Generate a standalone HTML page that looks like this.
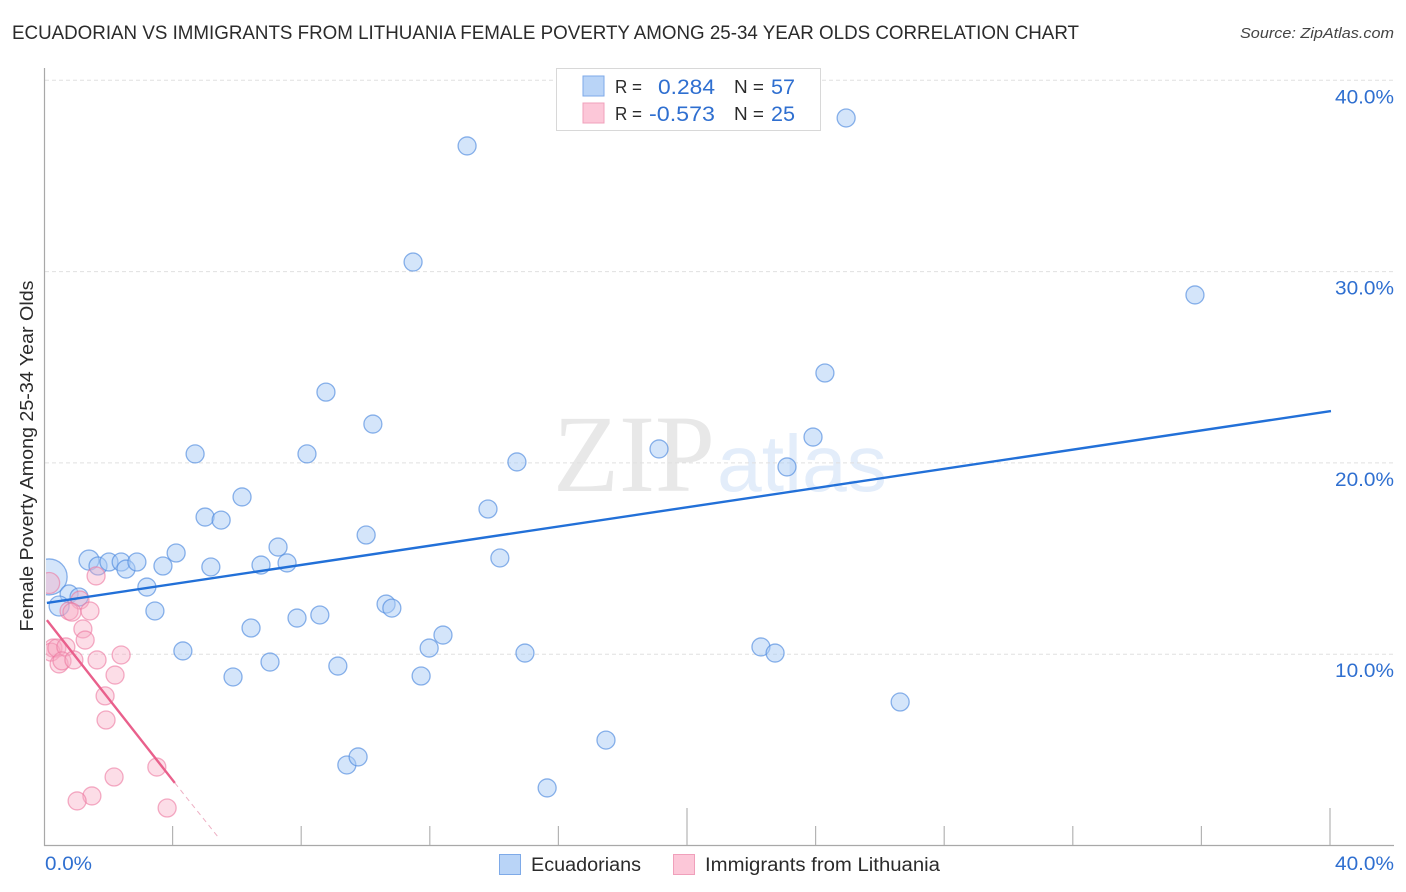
<!DOCTYPE html>
<html>
<head>
<meta charset="utf-8">
<style>
html,body{margin:0;padding:0;background:#fff;width:1406px;height:892px;overflow:hidden}
svg{display:block}
text{font-family:"Liberation Sans",sans-serif}
</style>
</head>
<body>
<svg id="chart" width="1406" height="892" viewBox="0 0 1406 892" xmlns="http://www.w3.org/2000/svg">
<defs><clipPath id="plot-clip"><rect x="46" y="60" width="1348" height="785"/></clipPath></defs>
<text x="12" y="39" font-size="19.5" fill="#2b2b2b" textLength="1067" lengthAdjust="spacingAndGlyphs">ECUADORIAN VS IMMIGRANTS FROM LITHUANIA FEMALE POVERTY AMONG 25-34 YEAR OLDS CORRELATION CHART</text>
<text x="1394" y="38" font-size="15" font-style="italic" fill="#444" text-anchor="end" textLength="154" lengthAdjust="spacingAndGlyphs">Source: ZipAtlas.com</text>
<g>
<text x="553" y="491" font-size="110" fill="#e8e8e8" style="font-family:'Liberation Serif',serif" textLength="162" lengthAdjust="spacingAndGlyphs">ZIP</text>
<text x="717" y="491" font-size="80" fill="#e3edfa" textLength="170" lengthAdjust="spacingAndGlyphs">atlas</text>
</g>
<g id="grid"></g>
<g id="axes"></g>
<g id="marks" clip-path="url(#plot-clip)"></g>
<g id="trends"></g>
<text transform="translate(33,456) rotate(-90)" font-size="18.5" fill="#2b2b2b" text-anchor="middle" textLength="351" lengthAdjust="spacingAndGlyphs">Female Poverty Among 25-34 Year Olds</text>
<g>
<rect x="556.5" y="68.5" width="264" height="62" fill="#fff" stroke="#d8d8d8"/>
<rect x="583" y="76" width="21" height="20" fill="#b9d4f7" stroke="#7eaae8" stroke-width="1"/>
<rect x="583" y="103" width="21" height="20" fill="#fcc7d8" stroke="#f0a0bb" stroke-width="1"/>
<text x="615" y="93" font-size="18" fill="#2b2b2b" textLength="27" lengthAdjust="spacingAndGlyphs">R =</text>
<text x="715" y="94" font-size="21" fill="#2f6fd0" text-anchor="end" textLength="57" lengthAdjust="spacingAndGlyphs">0.284</text>
<text x="734" y="93" font-size="18" fill="#2b2b2b" textLength="30" lengthAdjust="spacingAndGlyphs">N =</text>
<text x="771" y="94" font-size="21" fill="#2f6fd0" textLength="24" lengthAdjust="spacingAndGlyphs">57</text>
<text x="615" y="120" font-size="18" fill="#2b2b2b" textLength="27" lengthAdjust="spacingAndGlyphs">R =</text>
<text x="715" y="121" font-size="21" fill="#2f6fd0" text-anchor="end" textLength="66" lengthAdjust="spacingAndGlyphs">-0.573</text>
<text x="734" y="120" font-size="18" fill="#2b2b2b" textLength="30" lengthAdjust="spacingAndGlyphs">N =</text>
<text x="771" y="121" font-size="21" fill="#2f6fd0" textLength="24" lengthAdjust="spacingAndGlyphs">25</text>
</g>
<g>
<rect x="499.5" y="854.5" width="21" height="20" fill="#b9d4f7" stroke="#7eaae8"/>
<text x="531" y="871" font-size="19" fill="#2b2b2b" textLength="110" lengthAdjust="spacingAndGlyphs">Ecuadorians</text>
<rect x="673.5" y="854.5" width="21" height="20" fill="#fcc7d8" stroke="#f0a0bb"/>
<text x="705" y="871" font-size="19" fill="#2b2b2b" textLength="235" lengthAdjust="spacingAndGlyphs">Immigrants from Lithuania</text>
</g>
</svg>
<script>
var NS = 'http://www.w3.org/2000/svg';

var yTickValues = [10, 20, 30, 40];
var yTickLabels = ['10.0%', '20.0%', '30.0%', '40.0%'];
var xTickValues = [4, 8, 12, 16, 20, 24, 28, 32, 36, 40];
var xMajorTicks = [20, 40];
var xEndLabels = ['0.0%', '40.0%'];

var ecuadoriansX = [24.95,13.16,11.48,35.8,24.29,8.77,10.23,23.92,19.13,4.7,8.18,14.71,23.11,6.16,13.81,5.01,5.51,10.02,7.28,4.11,14.18,1.4,1.68,2.02,2.4,2.55,2.89,3.7,5.19,6.75,7.56,0.16,3.2,0.78,1.09,0.47,3.45,10.64,10.82,7.87,8.58,6.44,12.41,11.98,4.32,14.96,22.3,22.74,7.03,9.14,5.88,11.73,26.63,17.48,9.42,9.77,15.65];
var ecuadoriansY = [38.03,36.57,30.5,28.78,24.7,23.7,22.03,21.35,20.73,20.47,20.47,20.05,19.79,18.22,17.59,17.17,17.01,16.23,15.6,15.29,15.03,14.92,14.61,14.82,14.82,14.45,14.82,14.61,14.56,14.66,14.77,14.04,13.51,13.15,12.99,12.52,12.26,12.62,12.41,11.89,12.05,11.37,11.0,10.32,10.17,10.06,10.38,10.06,9.59,9.38,8.81,8.86,7.5,5.51,4.21,4.63,3.01];
var ecuadoriansSize = [9,9,9,9,9,9,9,9,9,9,9,9,9,9,9,9,9,9,9,9,9,10,9,9,9,9,9,9,9,9,9,18,9,9,9,10,9,9,9,9,9,9,9,9,9,9,9,9,9,9,9,9,9,9,9,9,9];

var lithuaniaX = [1.62,0.16,1.12,0.78,0.87,1.43,1.21,1.28,0.28,0.22,0.4,0.68,0.47,0.56,0.93,1.65,2.4,2.21,1.9,1.93,3.51,2.18,1.49,1.03,3.83];
var lithuaniaY = [14.09,13.72,12.83,12.26,12.2,12.26,11.32,10.74,10.32,10.11,10.32,10.38,9.49,9.65,9.7,9.7,9.96,8.91,7.82,6.56,4.1,3.58,2.59,2.33,1.96];
var lithuaniaSize = [9,10.5,9,9,9,9,9,9,9,9,9,9,9,9,9,9,9,9,9,9,9,9,9,9,9];

var ecuadoriansTrendX = [0.09, 40.03];
var ecuadoriansTrendY = [12.68, 22.71];
var lithuaniaTrendX = [0.09, 4.07];
var lithuaniaTrendY = [11.78, 3.27];
var lithuaniaDashX = [4.07, 5.44];
var lithuaniaDashY = [3.27, 0.39];

function xs(v) { return 44 + v * 32.15; }
function ys(v) { return 845.5 - v * 19.13; }

function add(parent, tag, attrs) {
  var el = document.createElementNS(NS, tag);
  for (var k in attrs) el.setAttribute(k, attrs[k]);
  parent.appendChild(el);
  return el;
}

var grid = document.getElementById('grid');
var axes = document.getElementById('axes');
var marks = document.getElementById('marks');
var trends = document.getElementById('trends');

yTickValues.forEach(function (v, i) {
  var g = add(grid, 'line', {x1: 45, x2: 1394, y1: ys(v), y2: ys(v), stroke: '#e0e0e0', 'stroke-width': 1, 'stroke-dasharray': '4 3'});
  
  
  var t = add(axes, 'text', {x: 1394, y: ys(v) + 23, 'font-size': 19.5, fill: '#2f6fd0', 'text-anchor': 'end', textLength: 59, lengthAdjust: 'spacingAndGlyphs'});
  t.textContent = yTickLabels[i];
  
  
});

var yAxis = add(axes, 'line', {x1: 44.5, x2: 44.5, y1: 68, y2: 846, stroke: '#a8a8a8', 'stroke-width': 1.2});


var xAxis = add(axes, 'line', {x1: 44, x2: 1394, y1: 845.5, y2: 845.5, stroke: '#a8a8a8', 'stroke-width': 1.2});



xTickValues.forEach(function (v) {
  var top = xMajorTicks.indexOf(v) >= 0 ? 808 : 826;
  var tick = add(axes, 'line', {x1: xs(v), x2: xs(v), y1: top, y2: 845, stroke: '#b4b4b4', 'stroke-width': 1.2});
  
  
});

var x0 = add(axes, 'text', {x: 45, y: 870, 'font-size': 19.5, fill: '#2f6fd0', textLength: 47, lengthAdjust: 'spacingAndGlyphs'});
x0.textContent = xEndLabels[0];


var x1 = add(axes, 'text', {x: 1394, y: 870, 'font-size': 19.5, fill: '#2f6fd0', 'text-anchor': 'end', textLength: 59, lengthAdjust: 'spacingAndGlyphs'});
x1.textContent = xEndLabels[1];



ecuadoriansX.forEach(function (v, i) {
  var c = add(marks, 'circle', {cx: xs(v), cy: ys(ecuadoriansY[i]), r: ecuadoriansSize[i], fill: 'rgba(170,203,245,0.5)', stroke: 'rgba(78,138,222,0.65)', 'stroke-width': 1.3});
  
  
});
lithuaniaX.forEach(function (v, i) {
  var c = add(marks, 'circle', {cx: xs(v), cy: ys(lithuaniaY[i]), r: lithuaniaSize[i], fill: 'rgba(248,170,195,0.4)', stroke: 'rgba(236,120,160,0.6)', 'stroke-width': 1.3});
  
  
});

var tb = add(trends, 'line', {x1: xs(ecuadoriansTrendX[0]), y1: ys(ecuadoriansTrendY[0]), x2: xs(ecuadoriansTrendX[1]), y2: ys(ecuadoriansTrendY[1]), stroke: '#2270d8', 'stroke-width': 2.4});


var tp = add(trends, 'line', {x1: xs(lithuaniaTrendX[0]), y1: ys(lithuaniaTrendY[0]), x2: xs(lithuaniaTrendX[1]), y2: ys(lithuaniaTrendY[1]), stroke: '#e9608c', 'stroke-width': 2.4});


var td = add(trends, 'line', {x1: xs(lithuaniaDashX[0]), y1: ys(lithuaniaDashY[0]), x2: xs(lithuaniaDashX[1]), y2: ys(lithuaniaDashY[1]), stroke: '#eeb0c4', 'stroke-width': 1, 'stroke-dasharray': '5 4'});


</script>
</body>
</html>
